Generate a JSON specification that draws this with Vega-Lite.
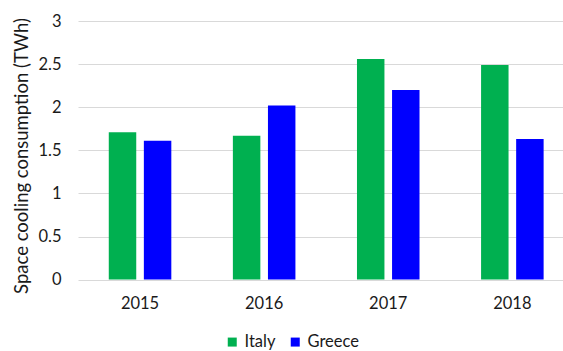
{
  "$schema": "https://vega.github.io/schema/vega-lite/v6.json",
  "width": 483,
  "height": 258.6,
  "autosize": {"type": "none"},
  "padding": {"left": 78, "top": 21, "right": 2, "bottom": 71.4},
  "config": {"font": "Lato", "view": {"stroke": null}, "background": "white"},
  "data": {
    "values": [
      {"Year": "2015", "Country": "Italy", "Value": 1.71},
      {"Year": "2015", "Country": "Greece", "Value": 1.61},
      {"Year": "2016", "Country": "Italy", "Value": 1.67},
      {"Year": "2016", "Country": "Greece", "Value": 2.02},
      {"Year": "2017", "Country": "Italy", "Value": 2.56},
      {"Year": "2017", "Country": "Greece", "Value": 2.2},
      {"Year": "2018", "Country": "Italy", "Value": 2.49},
      {"Year": "2018", "Country": "Greece", "Value": 1.63}
    ]
  },
  "mark": {"type": "bar"},
  "encoding": {
    "x": {
      "field": "Year",
      "type": "nominal",
      "scale": {"range": [0, 496.4], "paddingInner": 0.496, "paddingOuter": 0.248},
      "axis": {
        "title": null,
        "labelAngle": 0,
        "domain": false,
        "ticks": false,
        "grid": false,
        "labelPadding": 16,
        "labelFontSize": 16.5,
        "labelColor": "#1a1a1a"
      }
    },
    "xOffset": {
      "field": "Country",
      "type": "nominal",
      "sort": ["Italy", "Greece"],
      "scale": {"paddingInner": 0.217, "paddingOuter": 0}
    },
    "y": {
      "field": "Value",
      "type": "quantitative",
      "scale": {"domain": [0, 3]},
      "axis": {
        "values": [0, 0.5, 1, 1.5, 2, 2.5, 3],
        "format": "~g",
        "title": "Space cooling consumption (TWh)",
        "domain": false,
        "ticks": false,
        "gridColor": "#D9D9D9",
        "gridWidth": 1,
        "labelPadding": 17,
        "labelFontSize": 16.5,
        "labelColor": "#1a1a1a",
        "titleFontSize": 18.5,
        "titleFontWeight": "normal",
        "titleColor": "#1a1a1a",
        "titlePadding": 6,
        "titleY": 134.5
      }
    },
    "color": {
      "field": "Country",
      "type": "nominal",
      "sort": ["Italy", "Greece"],
      "scale": {"domain": ["Italy", "Greece"], "range": ["#00B050", "#0000FF"]},
      "legend": {
        "orient": "none",
        "legendX": 146,
        "legendY": 312.7,
        "direction": "horizontal",
        "title": null,
        "padding": 0,
        "symbolType": "square",
        "symbolSize": 81,
        "symbolStrokeWidth": 0,
        "labelFontSize": 16.5,
        "labelColor": "#1a1a1a",
        "columnPadding": 11,
        "labelOffset": 4
      }
    }
  }
}
